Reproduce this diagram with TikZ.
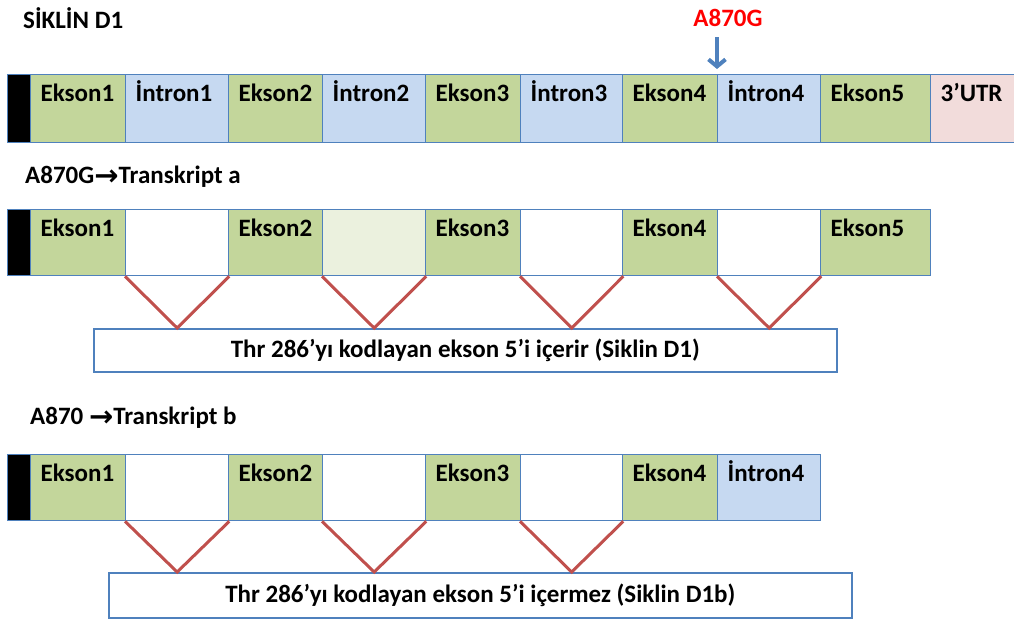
\documentclass[tikz,border=0pt]{standalone}
\usepackage{fontspec}
\setmainfont{Carlito}
\newfontfamily\arrowfont{DejaVu Sans}
\usetikzlibrary{arrows.meta}
\definecolor{ekgreen}{HTML}{C3D69B}
\definecolor{inblue}{HTML}{C6D9F1}
\definecolor{utrpink}{HTML}{F2DCDB}
\definecolor{palegreen}{HTML}{EBF1DE}
\definecolor{bord}{HTML}{4F81BD}
\definecolor{vred}{HTML}{C0504D}
\definecolor{mutred}{HTML}{FF0000}
\newcommand{\harrow}{\raisebox{-1.5pt}{\arrowfont\bfseries\fontsize{29}{29}\selectfont →}}
\begin{document}
\begin{tikzpicture}[x=1pt,y=-1pt,
  cell/.style={draw=bord, line width=1.3pt, anchor=north west, inner xsep=10pt,
    inner ysep=13pt, text height=14pt, align=left,
    font=\fontsize{25}{28}\selectfont\bfseries},
  rowa/.style={text depth=28pt},
  rowb/.style={text depth=26pt},
  ekfill/.style={fill=ekgreen},
  intrfill/.style={fill=inblue},
  whfill/.style={fill=white},
  pgfill/.style={fill=palegreen},
  utrfill/.style={fill=utrpink},
  blkfill/.style={fill=black, text width=3pt},
  heading/.style={anchor=west, inner sep=0pt, font=\fontsize{25}{28}\selectfont\bfseries},
  vline/.style={draw=vred, line width=3pt, line join=miter},
  textbox/.style={draw=bord, line width=1.6pt, anchor=north west, fill=white,
    font=\fontsize{25}{28}\selectfont\bfseries},
  mutarrow/.style={draw=bord, line width=4pt, -{Straight Barb[length=7pt,width=17pt]}}
]
\useasboundingbox (0,0) rectangle (1014,619);

% Titles
\node[heading] (title) at (23,18) {SİKLİN D1};
\node[heading, anchor=center, text=mutred] (mutlbl) at (728,18) {A870G};

% Row 1
\node[cell, rowa, blkfill] (r1k) at (7,74) {};
\node[cell, rowa, ekfill, text width=75pt] (r1e1) at (30,74) {Ekson1};
\node[cell, rowa, intrfill, text width=83pt] (r1i1) at (125,74) {İntron1};
\node[cell, rowa, ekfill, text width=74pt] (r1e2) at (228,74) {Ekson2};
\node[cell, rowa, intrfill, text width=83pt] (r1i2) at (322,74) {İntron2};
\node[cell, rowa, ekfill, text width=75pt] (r1e3) at (425,74) {Ekson3};
\node[cell, rowa, intrfill, text width=82pt] (r1i3) at (520,74) {İntron3};
\node[cell, rowa, ekfill, text width=75pt] (r1e4) at (622,74) {Ekson4};
\node[cell, rowa, intrfill, text width=83pt] (r1i4) at (717,74) {İntron4};
\node[cell, rowa, ekfill, text width=90pt] (r1e5) at (820,74) {Ekson5};
\node[cell, rowa, utrfill, text width=66pt] (r1u) at (930,74) {3’UTR};

\coordinate (mutstart) at (717,37);
\draw[mutarrow, shorten >=5pt] (mutstart) -- (r1i4.north west);

% Row 2
\node[heading] (lbla) at (25,177) {A870G\harrow Transkript a};
\node[cell, rowb, blkfill] (r2k) at (7,209) {};
\node[cell, rowb, ekfill, text width=75pt] (r2e1) at (30,209) {Ekson1};
\node[cell, rowb, whfill, text width=83pt] (r2i1) at (125,209) {};
\node[cell, rowb, ekfill, text width=74pt] (r2e2) at (228,209) {Ekson2};
\node[cell, rowb, pgfill, text width=83pt] (r2i2) at (322,209) {};
\node[cell, rowb, ekfill, text width=75pt] (r2e3) at (425,209) {Ekson3};
\node[cell, rowb, whfill, text width=82pt] (r2i3) at (520,209) {};
\node[cell, rowb, ekfill, text width=75pt] (r2e4) at (622,209) {Ekson4};
\node[cell, rowb, whfill, text width=83pt] (r2i4) at (717,209) {};
\node[cell, rowb, ekfill, text width=90pt] (r2e5) at (820,209) {Ekson5};

\node[textbox, minimum width=743pt, minimum height=43pt] (boxa) at (93,328)
  {Thr 286’yı kodlayan ekson 5’i içerir (Siklin D1)};
\foreach \c in {r2i1,r2i2,r2i3,r2i4}
  \draw[vline] (\c.south west) -- (\c.south |- boxa.north) -- (\c.south east);

% Row 3
\node[heading] (lblb) at (30,418) {A870 \harrow Transkript b};
\node[cell, rowb, blkfill] (r3k) at (7,454) {};
\node[cell, rowb, ekfill, text width=75pt] (r3e1) at (30,454) {Ekson1};
\node[cell, rowb, whfill, text width=83pt] (r3i1) at (125,454) {};
\node[cell, rowb, ekfill, text width=74pt] (r3e2) at (228,454) {Ekson2};
\node[cell, rowb, whfill, text width=83pt] (r3i2) at (322,454) {};
\node[cell, rowb, ekfill, text width=75pt] (r3e3) at (425,454) {Ekson3};
\node[cell, rowb, whfill, text width=82pt] (r3i3) at (520,454) {};
\node[cell, rowb, ekfill, text width=75pt] (r3e4) at (622,454) {Ekson4};
\node[cell, rowb, intrfill, text width=83pt] (r3i4) at (717,454) {İntron4};

\node[textbox, minimum width=743pt, minimum height=45pt] (boxb) at (108,572)
  {Thr 286’yı kodlayan ekson 5’i içermez (Siklin D1b)};
\foreach \c in {r3i1,r3i2,r3i3}
  \draw[vline] (\c.south west) -- (\c.south |- boxb.north) -- (\c.south east);
\end{tikzpicture}
\end{document}
